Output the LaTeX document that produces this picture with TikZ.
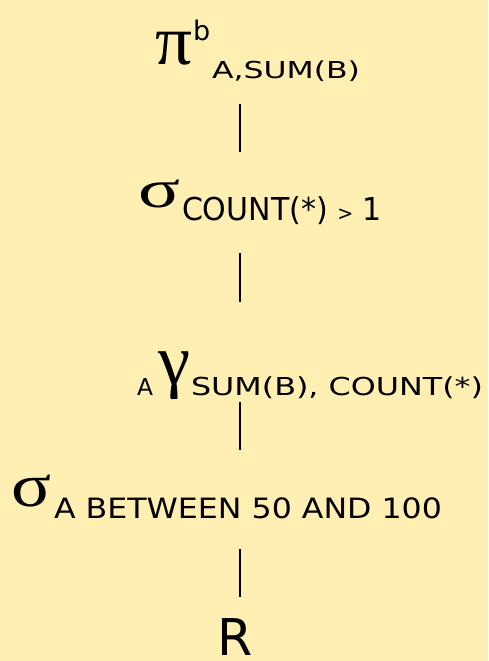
\documentclass[tikz,border=0pt]{standalone}
\usepackage{fontspec}
\setmainfont{DejaVu Sans}
\newfontfamily\grk{Liberation Serif}
\usepackage{graphicx}
\definecolor{bg}{RGB}{255,239,178}
\begin{document}
\begin{tikzpicture}[x=1pt,y=-1pt,
  every node/.style={inner sep=0pt, outer sep=0pt, text=black},
  txt/.style={anchor=base west},
  gk/.style={anchor=north west},
  thickedge/.style={line width=2.5pt},
  thinedge/.style={line width=1.7pt}]
\fill[bg] (0,0) rectangle (488,661);
\useasboundingbox (0,0) rectangle (488,661);
% projection
\node[gk] (pi) at (155,32) {\resizebox*{37pt}{33pt}{\grk π}};
\node[txt] (pib) at (193,41) {\fontsize{27}{30}\selectfont b};
\node[txt] (pisub) at (212,78) {\resizebox{148pt}{\height}{\fontsize{23.3}{26}\selectfont A,SUM(B)}};
% selection count
\node[gk] (s1) at (138,180) {\resizebox*{42pt}{28pt}{\grk σ}};
\node[txt] (s1sub) at (182,220) {\resizebox{200pt}{\height}{\fontsize{31.5}{34}\selectfont COUNT(*) {\fontsize{20}{20}\selectfont >} 1}};
% grouping
\node[txt] (gA) at (137,395) {\fontsize{23.3}{26}\selectfont A};
\node[gk] (g) at (158,352) {\resizebox*{32pt}{48pt}{\grk γ}};
\node[txt] (gsub) at (191,395) {\resizebox{292pt}{\height}{\fontsize{24.7}{27}\selectfont SUM(B), COUNT(*)}};
% selection between
\node[gk] (s2) at (12,475) {\resizebox*{40pt}{32pt}{\grk σ}};
\node[txt] (s2sub) at (54,518) {\resizebox{388pt}{\height}{\fontsize{28}{30}\selectfont A BETWEEN 50 AND 100}};
% relation
\node[txt] (r) at (217,655) {\fontsize{50.7}{52}\selectfont R};
% connectors
\coordinate (e1t) at (240,104); \coordinate (e1b) at (240,152);
\coordinate (e2t) at (240,253); \coordinate (e2b) at (240,302);
\coordinate (e3t) at (240,402); \coordinate (e3b) at (240,450);
\coordinate (e4t) at (240,549); \coordinate (e4b) at (240,597);
\draw[thickedge] (e1t) -- (e1b);
\draw[thickedge] (e2t) -- (e2b);
\draw[thinedge] (e3t) -- (e3b);
\draw[thinedge] (e4t) -- (e4b);
\end{tikzpicture}
\end{document}
